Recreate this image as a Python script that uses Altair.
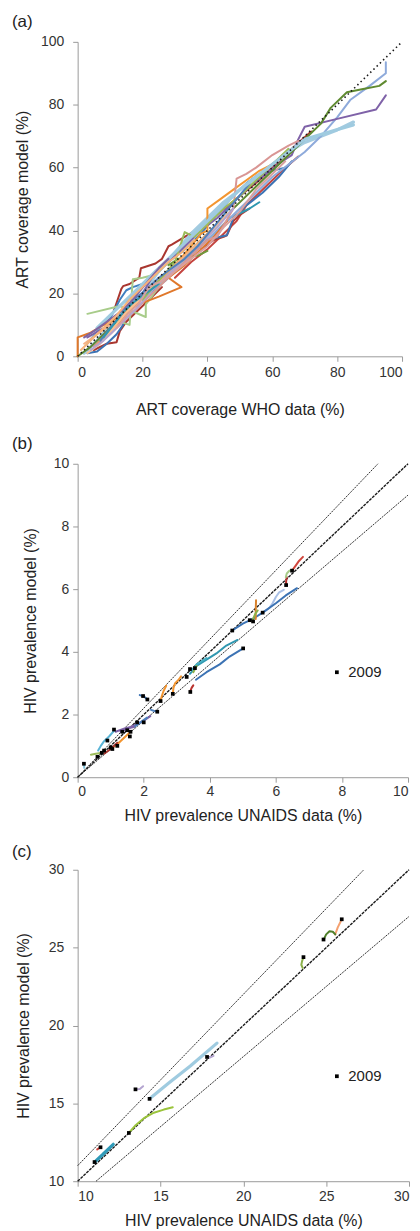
import altair as alt
import pandas as pd

FONT = "Liberation Sans"

# ---------------- Panel (a): ART coverage ----------------
A_NAMES = ["a01", "a02", "a03", "a04", "a05", "a06", "a07", "a08", "a09", "a10",
           "a11", "a12", "a13", "a14", "a15", "a16", "a17", "a18", "a19", "a20",
           "a21", "a22", "a23", "a24", "a25", "a26", "a27", "a28"]
A_COLORS = ["#a9362f", "#a9362f", "#c4443f", "#b03a32", "#3c73b4", "#3f7fc0", "#2f97b0", "#5ab4d6",
            "#a3cbe0", "#8eaadb", "#7f62a8", "#5f8a30", "#6f9a3a", "#a8cc8a", "#a8cc8a", "#e0782b",
            "#f39530", "#d99694", "#f4b183", "#fac090", "#b4a4d0", "#9bbb59", "#4f81bd", "#2f97b0",
            "#d9a0a0", "#9fcbe0", "#8064a2", "#f7b27a"]
A_THICK = ["a09", "a26"]
A_X = [
    [8, 11, 13.5, 14, 16, 19, 19.5, 24, 26, 28, 29, 33, 38, 44, 50, 56, 62, 67, 72],
    [5, 9, 12, 13, 15, 18, 22, 26],
    [30, 35, 40, 45, 49, 52, 56, 60, 64, 68],
    [38, 42, 45, 46, 48, 50, 53],
    [3, 6, 9, 12, 14, 15, 18, 22, 26, 30, 35, 40, 44, 46, 48, 52, 57, 62, 66],
    [4, 8, 10, 13, 15, 17, 20, 24, 28, 33, 38, 42, 47, 52, 56, 60, 64],
    [5, 9, 12, 15, 18, 22, 27, 32, 37, 42, 47, 50, 53, 56],
    [3, 6, 10, 14, 17, 20, 25, 30, 35],
    [2, 6, 10, 15, 20, 25, 30, 35, 40, 45, 50, 55, 60, 65, 70, 75, 80, 85],
    [3, 7, 12, 18, 24, 30, 36, 42, 48, 54, 60, 65, 70, 75, 80, 84, 90, 95, 95],
    [3, 8, 12, 17, 20, 24, 28, 33, 38, 43, 48, 53, 58, 63, 66, 68, 70, 80, 92, 95],
    [0, 4, 9, 14, 20, 26, 31, 37, 43, 49, 55, 60, 65, 70, 75, 78, 83, 88, 93, 95],
    [28, 31, 34, 37, 40],
    [3, 13, 21, 21, 25, 28, 32, 36, 40],
    [10, 13, 16, 17, 20, 24, 28],
    [0, 0, 4, 8, 12, 16, 20, 25, 32, 28, 33, 38, 42, 46],
    [5, 10, 15, 20, 25, 30, 35, 38, 40, 40, 44, 48, 52, 56, 60, 64],
    [5, 10, 15, 20, 25, 30, 35, 40, 43, 48, 49, 52, 55, 60, 65, 68],
    [2, 6, 10, 14, 18, 22, 26, 30, 34, 38, 42, 46],
    [3, 7, 11, 15, 19, 23, 27, 31, 35, 39, 43, 47],
    [4, 8, 13, 18, 23, 28, 33, 38, 43, 48],
    [20, 25, 30, 33, 36, 40, 45, 50, 55, 60, 65],
    [7, 10, 14, 17, 21, 25, 29, 33, 37, 41, 45, 49, 53],
    [8, 11, 14, 17, 21, 25],
    [12, 15, 19, 22, 26, 30, 35, 40, 45, 50, 55, 60, 64],
    [6, 10, 14, 18, 22, 26, 30, 34, 38, 42, 46, 50, 55, 60, 65, 70, 78, 85],
    [2, 5, 9, 13, 17, 21, 25, 28],
    [1, 4, 8, 12, 16, 20, 24, 28, 32, 36],
]
A_Y = [
    [10, 14, 21.5, 22.3, 23, 25, 28, 29.5, 31, 35, 35.5, 38, 41, 46, 51, 56, 62, 67, 71.5],
    [2, 4, 4.5, 8, 11, 14, 18, 22],
    [25, 30, 34, 39, 43, 48, 52, 56, 60, 63.5],
    [34, 37, 38, 38.5, 43, 45, 47],
    [1, 1.5, 4, 7, 10, 14, 18, 21, 24, 29, 33, 37, 38, 38.5, 44, 48, 52, 57, 62],
    [3, 7, 12, 18, 21, 22, 23, 26, 30, 34, 39, 44, 50, 55, 58, 59, 60],
    [4, 8, 12, 15, 17, 20, 24, 29, 34, 39, 44, 45.5, 47, 49],
    [4, 8, 13, 17, 19, 22, 27, 32, 36],
    [1, 5, 10, 15, 20, 27, 33, 39, 44, 49, 53, 57, 61, 65, 68, 70, 72, 74.5],
    [2, 6, 11, 17, 22, 28, 33, 39, 45, 51, 57, 61, 65, 70, 76, 81.5, 86, 90, 93.5],
    [6, 9, 12, 16, 20, 27, 30, 35, 40, 44, 49, 54, 58, 62, 64, 69, 73, 75.5, 78.5, 83],
    [0, 3, 8, 13, 19, 25, 30, 36, 42, 48, 54, 59, 64, 69, 74, 79, 84, 85, 86, 87.5],
    [29, 31, 32, 32, 33.5],
    [13.5, 16, 12.5, 16.5, 22, 26, 30, 34, 38],
    [11, 11, 10, 24.5, 25, 26, 30],
    [0, 6, 7.5, 10, 12, 15, 17, 19, 22, 25, 29, 34, 38, 43],
    [3, 8, 13, 19, 24, 29, 35, 39, 40, 47, 50, 53, 56, 59, 61, 64],
    [3, 7, 12, 17, 22, 27, 32, 37, 38, 47, 56.5, 58, 60, 64, 67, 68.5],
    [4, 7, 10, 13, 17, 21, 25, 29, 33, 37, 41, 45],
    [1, 4, 9, 14, 18, 22, 25, 29, 33, 37, 42, 46],
    [2, 5, 10, 15, 21, 26, 31, 36, 41, 47],
    [18, 24, 30, 39.5, 38, 42, 47, 51, 56, 61, 66],
    [5, 9, 14, 18, 21, 25, 28, 31, 35, 40, 45, 50, 55],
    [6, 10, 14, 17, 20, 23],
    [9, 13, 17, 22, 24, 27, 31, 35, 41, 46, 53, 58, 62],
    [9, 13, 17, 21, 25, 29, 33, 37, 41, 45, 49, 53, 57, 61, 65, 69, 71.5, 73.6],
    [6, 8, 11, 14, 18, 23, 28, 31],
    [2, 5, 9, 13, 18, 22, 26, 30, 33, 37],
]
A_DIAG_X = [0, 100]
A_DIAG_Y = [0, 100]
A_TICKS = [0, 20, 40, 60, 80, 100]

# ---------------- Panel (b): HIV prevalence 0-10 ----------------
B_NAMES = ["b01", "b02", "b03", "b04", "b05", "b06", "b07", "b08", "b09", "b10", "b11", "b12",
           "b13", "b14", "b15", "b16", "b17", "b18", "b19", "b20", "b21", "b22", "b23", "b24"]
B_COLORS = ["#d0453c", "#b8322e", "#a8cc8a", "#a9c0e6", "#3c73b4", "#d9822b", "#8bb04a", "#2f97b0",
            "#46b0c4", "#3c73b4", "#b8322e", "#f39530", "#f39530", "#3c73b4", "#4f81bd", "#7f62a8",
            "#5ab4d6", "#9bbb59", "#7fc3dc", "#f39530", "#a9362f", "#4f81bd", "#8bb04a", "#7f62a8"]
B_X = [
    [6.49, 6.6, 6.7, 6.82], [6.31, 6.31, 6.33], [6.3, 6.33, 6.4, 6.5],
    [5.6, 5.8, 5.9, 6.0, 6.1, 6.24], [4.68, 5.0, 5.3, 5.6, 6.0, 6.3, 6.64], [5.39, 5.39, 5.4],
    [5.29, 5.33, 5.38, 5.45], [3.4, 3.6, 3.9, 4.2, 4.5, 4.84], [3.45, 3.6, 3.75, 3.9],
    [3.58, 3.9, 4.3, 4.6, 5.01], [3.41, 3.45, 3.5], [2.88, 2.9, 2.95, 3.05, 3.13],
    [2.51, 2.55, 2.6, 2.68], [1.88, 2.0, 2.11], [2.41, 2.3, 2.22],
    [1.15, 1.4, 1.6, 1.8, 2.0, 2.2], [0.62, 0.7, 0.8, 0.95, 1.1], [0.4, 0.55, 0.7],
    [0.19, 0.2], [1.0, 1.2, 1.4, 1.6], [0.8, 1.0, 1.2], [1.7, 1.9, 2.1],
    [3.5, 3.55, 3.6], [1.3, 1.5, 1.7],
]
B_Y = [
    [6.59, 6.75, 6.9, 7.03], [6.13, 6.25, 6.38], [6.38, 6.5, 6.58, 6.62],
    [5.25, 5.4, 5.55, 5.75, 5.9, 5.98], [4.68, 4.9, 5.05, 5.25, 5.55, 5.8, 6.03], [5.05, 5.35, 5.65],
    [4.99, 5.1, 5.22, 5.32], [3.3, 3.55, 3.75, 3.95, 4.2, 4.38], [3.4, 3.6, 3.7, 3.8],
    [3.11, 3.35, 3.6, 3.85, 4.11], [2.75, 2.85, 2.93], [2.66, 2.85, 3.0, 3.1, 3.22],
    [2.43, 2.6, 2.75, 2.92], [2.62, 2.58, 2.48], [2.09, 2.12, 2.15],
    [1.45, 1.55, 1.6, 1.7, 1.8, 1.95], [0.85, 1.0, 1.15, 1.3, 1.48], [0.72, 0.75, 0.77],
    [0.43, 0.3], [0.9, 1.05, 1.25, 1.45], [0.75, 0.9, 1.1], [1.6, 1.75, 1.9],
    [3.35, 3.45, 3.55], [1.45, 1.55, 1.6],
]
B_SQ_X = [6.31, 6.49, 5.6, 4.68, 5.21, 5.31, 3.4, 3.3, 3.55, 5.01, 3.41, 2.88, 2.51, 1.98, 2.11,
          2.41, 1.1, 0.9, 0.19, 0.73, 0.8, 1.0, 1.2, 1.35, 1.5, 1.6, 1.8, 2.0, 0.6, 1.05, 1.58]
B_SQ_Y = [6.13, 6.59, 5.25, 4.68, 5.01, 4.97, 3.45, 3.2, 3.48, 4.11, 2.72, 2.66, 2.43, 2.59, 2.48,
          2.09, 1.52, 1.17, 0.43, 0.78, 0.85, 0.95, 1.0, 1.45, 1.5, 1.45, 1.75, 1.75, 0.65, 0.9, 1.3]
B_MID_X, B_MID_Y = [0, 10], [0, 10]
B_UP_X, B_UP_Y = [0, 9.09], [0, 10]
B_LO_X, B_LO_Y = [0, 10], [0, 9.0]
B_TICKS = [0, 2, 4, 6, 8, 10]

# ---------------- Panel (c): HIV prevalence 10-30 ----------------
C_NAMES = ["c01", "c02", "c03", "c04", "c05", "c06", "c07", "c08", "c09"]
C_COLORS = ["#f4a070", "#4f7f2a", "#8bb04a", "#b4a4d0", "#9fcbe0", "#b4a4d0", "#9bc43c",
            "#d0453c", "#2f9ab8"]
C_THICK = ["c05", "c09"]
C_X = [
    [25.54, 25.7, 25.94], [24.84, 25.0, 25.2, 25.4, 25.55], [23.63, 23.55, 23.5, 23.58],
    [13.5, 13.75, 13.95], [14.34, 15.5, 16.8, 18.41], [17.81, 18.0, 18.2],
    [13.09, 13.5, 14.0, 14.6, 15.2, 15.74], [11.18, 11.38], [11.02, 11.5, 12.15],
]
C_Y = [
    [25.84, 26.3, 26.82], [25.5, 25.85, 26.05, 26.02, 25.85], [24.38, 24.15, 23.9, 23.7],
    [15.9, 15.92, 16.1], [15.3, 16.3, 17.4, 18.87], [17.98, 17.95, 18.05],
    [13.1, 13.6, 14.05, 14.4, 14.6, 14.75], [12.04, 12.18], [11.23, 11.7, 12.37],
]
C_SQ_X = [25.94, 24.84, 23.63, 13.49, 14.34, 17.81, 13.09, 11.38, 11.02]
C_SQ_Y = [26.82, 25.52, 24.39, 15.9, 15.29, 17.98, 13.1, 12.18, 11.23]
C_MID_X, C_MID_Y = [10, 30], [10, 30]
C_UP_X, C_UP_Y = [10, 27.27], [11, 30]
C_LO_X, C_LO_Y = [11.11, 30], [10, 27.0]
C_TICKS = [10, 15, 20, 25, 30]


def series_frame(names, xs, ys, thick=()):
    rows = []
    for n, xx, yy in zip(names, xs, ys):
        for i, (x, y) in enumerate(zip(xx, yy)):
            rows.append({"s": n, "i": i, "x": x, "y": y, "w": "thick" if n in thick else "thin"})
    return pd.DataFrame(rows)


def panel(label, names, colors, xs, ys, thick, domain, ticks, xtitle, ytitle,
          w, h, xlp, xtp, ylp, ytp, toff, refs, squares=None, legend_xy=None):
    xs_ = alt.X("x:Q", scale=alt.Scale(domain=domain, nice=False, zero=False),
                axis=alt.Axis(values=ticks, title=xtitle, titlePadding=xtp, labelPadding=xlp))
    ys_ = alt.Y("y:Q", scale=alt.Scale(domain=domain, nice=False, zero=False),
                axis=alt.Axis(values=ticks, title=ytitle, titlePadding=ytp, labelPadding=ylp))
    df = series_frame(names, xs, ys, thick)
    lines = alt.Chart(df).mark_line(strokeJoin="round", strokeCap="round").encode(
        x=xs_, y=ys_,
        color=alt.Color("s:N", scale=alt.Scale(domain=names, range=colors), legend=None),
        strokeWidth=alt.StrokeWidth("w:N", scale=alt.Scale(domain=["thin", "thick"], range=[2.0, 3.2]),
                                    legend=None),
        order="i:Q",
    )
    ref_layers = []
    for (rx, ry, dash, sw) in refs:
        ref_layers.append(
            alt.Chart(pd.DataFrame({"x": rx, "y": ry})).mark_line(
                color="#1a1a1a", strokeDash=dash, strokeWidth=sw).encode(x="x:Q", y="y:Q"))
    if squares is None:
        layers = [lines] + ref_layers
    else:
        sx, sy = squares
        sq = alt.Chart(pd.DataFrame({"x": sx, "y": sy, "yr": ["2009"] * len(sx)})).mark_point(
            filled=True, color="black", opacity=1, size=14).encode(
            x="x:Q", y="y:Q",
            shape=alt.Shape("yr:N", scale=alt.Scale(domain=["2009"], range=["square"]),
                            legend=alt.Legend(orient="none", legendX=legend_xy[0], legendY=legend_xy[1],
                                              title=None, labelFontSize=15, labelFont=FONT,
                                              labelColor="#222", symbolSize=14, symbolFillColor="black",
                                              symbolStrokeWidth=0, labelOffset=4, padding=0)),
        )
        layers = ref_layers + [lines, sq]
    return alt.layer(*layers).properties(
        width=w, height=h,
        title=alt.Title(label, anchor="start", frame="group", dx=-66, offset=toff, fontSize=17,
                        fontWeight="normal", font=FONT, color="#222"),
    )


RES = dict(x="independent", y="independent", color="independent", shape="independent",
           strokeWidth="independent")

pa = panel("(a)", A_NAMES, A_COLORS, A_X, A_Y, A_THICK, [0, 100], A_TICKS,
           "ART coverage WHO data (%)", "ART coverage model (%)", 326, 316,
           4, 22, 9, 10, 4,
           [(A_DIAG_X, A_DIAG_Y, [1.5, 3], 1.6)])
pb = panel("(b)", B_NAMES, B_COLORS, B_X, B_Y, (), [0, 10], B_TICKS,
           "HIV prevalence UNAIDS data (%)", "HIV prevalence model (%)", 332, 315,
           2, 9, 4, 15, 4,
           [(B_MID_X, B_MID_Y, [3, 1], 1.4), (B_UP_X, B_UP_Y, [2, 1], 0.9), (B_LO_X, B_LO_Y, [2, 1], 0.9)],
           squares=(B_SQ_X, B_SQ_Y), legend_xy=(253, 202))
pc = panel("(c)", C_NAMES, C_COLORS, C_X, C_Y, C_THICK, [10, 30], C_TICKS,
           "HIV prevalence UNAIDS data (%)", "HIV prevalence model (%)", 333, 313,
           3, 9, 9, 17, 2,
           [(C_MID_X, C_MID_Y, [3, 1], 1.4), (C_UP_X, C_UP_Y, [2, 1], 0.9), (C_LO_X, C_LO_Y, [2, 1], 0.9)],
           squares=(C_SQ_X, C_SQ_Y), legend_xy=(253, 200))

lower = alt.vconcat(pb, pc, spacing=20).resolve_scale(**RES).resolve_legend(shape="independent")

chart = alt.vconcat(pa, lower, spacing=18).resolve_scale(**RES).resolve_legend(
    shape="independent"
).configure_axis(
    grid=False, domainColor="#9a9a9a", tickColor="#9a9a9a", tickSize=5,
    labelFont=FONT, labelFontSize=14, labelColor="#333",
    titleFont=FONT, titleFontSize=16, titleFontWeight="normal", titleColor="#222",
).configure_view(stroke=None).properties(
    padding={"left": 4, "top": 2, "right": 0, "bottom": 0}, background="white"
)

chart.save("out.html", embed_options={"renderer": "svg", "actions": False})
